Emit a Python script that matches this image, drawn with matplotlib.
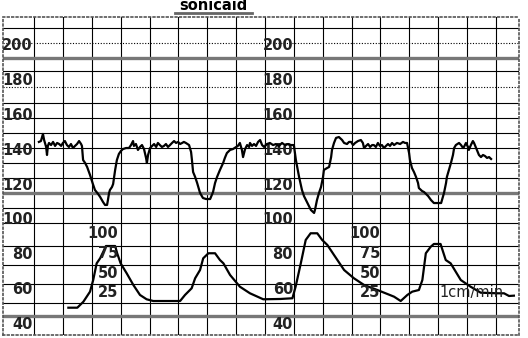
import numpy as np
import matplotlib.pyplot as plt
from matplotlib.lines import Line2D

# fetal heart rate trace: time (min) and rate (bpm)
fhr_min = [0.17, 0.24, 0.31, 0.35, 0.38, 0.42, 0.45, 0.48, 0.52, 0.59, 0.66, 0.73, 0.80, 0.87, 0.94,
           1.00, 1.07, 1.14, 1.21, 1.28, 1.35, 1.42, 1.49, 1.56, 1.63, 1.66,
           1.70, 1.77, 1.84, 1.94, 2.04, 2.11, 2.22, 2.29, 2.39, 2.46, 2.53, 2.56, 2.60, 2.63, 2.70,
           2.74, 2.81, 2.87, 2.94, 3.01, 3.08, 3.19, 3.29, 3.36, 3.43,
           3.46, 3.53, 3.60, 3.67, 3.74, 3.81, 3.88, 3.91, 3.95, 4.02, 4.09, 4.16, 4.23, 4.29, 4.36,
           4.43, 4.50, 4.57, 4.64, 4.71, 4.78, 4.85, 4.92, 4.99, 5.06, 5.13, 5.19, 5.26, 5.37,
           5.44, 5.47, 5.51, 5.58, 5.65, 5.75, 5.85, 5.96, 6.10, 6.20, 6.27, 6.34, 6.44, 6.55, 6.61,
           6.68, 6.79, 6.89, 7.00,
           7.06, 7.13, 7.20, 7.24, 7.31, 7.38, 7.45, 7.48, 7.55, 7.62, 7.69, 7.76, 7.83, 7.90, 7.97,
           8.07, 8.17, 8.28, 8.38, 8.48, 8.59, 8.69, 8.80, 8.90, 9.00,
           9.07, 9.18, 9.28, 9.35, 9.42, 9.52, 9.59, 9.70, 9.73, 9.80, 9.87, 9.94, 10.01, 10.04,
           10.15, 10.22, 10.29, 10.32, 10.39, 10.46, 10.56, 10.67, 10.74,
           10.84, 10.91, 10.98, 11.05, 11.12, 11.22, 11.32, 11.39, 11.43, 11.50, 11.57, 11.64, 11.71,
           11.77, 11.84, 11.91, 11.98, 12.05, 12.12, 12.19, 12.26, 12.33, 12.40, 12.47, 12.57, 12.68,
           12.78, 12.85, 12.92,
           12.99, 13.02, 13.09, 13.16, 13.23, 13.30, 13.33, 13.44, 13.51, 13.65, 13.75, 13.85, 13.96,
           14.10, 14.16, 14.20, 14.27, 14.30, 14.37, 14.44, 14.51, 14.55,
           14.61, 14.72, 14.79, 14.86, 14.89, 14.96, 15.03, 15.06, 15.13, 15.20, 15.24, 15.31, 15.34,
           15.41, 15.48, 15.55, 15.62, 15.69, 15.76, 15.83]
fhr_bpm = [144.8, 145.3, 149.4, 145.9, 144.2, 141.9, 137.3, 142.5, 144.2, 143.0, 144.8, 142.5, 144.2, 143.6, 142.5,
           144.2, 145.3, 143.0, 141.9, 143.6, 141.3, 142.5, 143.6, 145.3, 143.6, 142.5,
           134.4, 132.7, 130.4, 125.8, 120.6, 117.2, 114.9, 113.2, 110.3, 108.6, 108.6, 111.4, 115.5, 117.2, 118.9,
           120.6, 128.7, 134.4, 137.9, 139.6, 140.7, 141.3, 141.3, 143.0, 145.3,
           142.5, 143.6, 140.2, 141.9, 143.0, 140.7, 135.6, 132.7, 137.3, 141.3, 142.5, 143.6, 141.9, 144.2, 143.0,
           141.9, 142.5, 143.6, 141.9, 143.0, 144.2, 145.3, 144.2, 144.8, 143.6, 144.2, 144.8, 144.2, 143.0,
           139.0, 134.4, 127.5, 124.7, 121.2, 115.5, 112.6, 112.0, 112.0, 116.0, 121.2, 124.7, 128.7, 132.7, 135.6,
           138.4, 140.2, 140.7, 141.9,
           142.5, 144.2, 140.2, 136.1, 140.7, 143.0, 141.9, 144.2, 142.5, 143.6, 142.5, 144.8, 145.9, 143.0, 141.9,
           143.6, 144.2, 143.0, 143.6, 142.5, 144.2, 143.0, 143.6, 143.0, 143.0,
           134.4, 124.7, 117.2, 113.7, 111.4, 108.0, 105.7, 104.0, 105.7, 111.4, 115.5, 118.9, 124.7, 128.7,
           129.8, 130.4, 136.1, 140.2, 144.2, 147.1, 147.6, 145.9, 144.2,
           143.6, 144.8, 144.8, 143.0, 144.2, 145.3, 145.9, 144.2, 141.3, 142.5, 143.6, 141.9, 143.0,
           143.0, 141.9, 144.2, 142.5, 143.0, 141.3, 142.5, 143.6, 142.5, 144.2, 143.0, 144.2, 143.6,
           144.8, 144.2, 144.2,
           138.4, 134.4, 129.8, 127.5, 124.7, 121.2, 118.3, 116.6, 116.0, 113.7, 111.4, 109.7, 109.7,
           109.7, 113.2, 115.5, 121.2, 124.7, 128.7, 132.7, 137.3, 141.3,
           143.0, 144.2, 143.0, 141.3, 141.9, 144.2, 141.9, 140.2, 143.0, 145.3, 144.2, 141.3, 140.2,
           137.3, 136.1, 137.3, 136.7, 135.6, 136.1, 135.0]

# uterine contraction trace: time (min) and pressure (toco scale 0-100)
toco_min = [1.19, 1.50, 1.71, 1.94, 2.05, 2.17, 2.29, 2.40, 2.49, 2.81, 2.88, 3.00, 3.21, 3.44, 3.67,
            3.90, 4.13, 5.06, 5.23, 5.46, 5.58, 5.75, 5.86, 6.04, 6.27, 6.44, 6.56, 6.79, 7.13, 7.48,
            7.94, 8.54, 8.95, 9.06, 9.24, 9.41, 9.58, 9.81, 9.98, 10.16, 10.39, 10.74, 11.08, 11.43,
            11.89, 12.24, 12.47, 12.70, 12.93, 13.10, 13.33, 13.45, 13.57, 13.74, 13.85, 14.08, 14.26,
            14.43, 14.78, 15.12, 15.47, 16.05, 16.28, 16.45, 16.62]
toco_val = [6.3, 6.3, 13.9, 26.7, 41.5, 62.7, 69.1, 77.5, 84.7, 84.7, 75.5, 62.7, 50.0, 35.2, 22.5,
            17.0, 14.8, 14.8, 22.5, 31.0, 43.7, 54.2, 69.1, 75.5, 75.5, 66.9, 62.7, 47.9, 33.0, 24.6,
            17.0, 17.4, 18.3, 33.0, 62.7, 92.4, 100.9, 100.9, 92.4, 86.0, 73.3, 54.2, 43.7, 35.2,
            28.8, 23.7, 20.3, 14.8, 22.5, 26.7, 28.8, 41.5, 75.5, 83.8, 87.3, 87.3, 66.9,
            62.7, 41.5, 33.0, 25.4, 24.6, 24.6, 21.2, 21.6]

fhr_labels = [200, 180, 160, 140, 120, 100, 80, 60, 40]
toco_labels = [100, 75, 50, 25]
speed_label = "1cm/min"
title = "sonicaid"

# paper grid (bpm scale), thick rule lines, label columns (min)
hgrid = [210.2, 185.5, 167.3, 158.7, 150.1, 141.5, 132.9, 124.3,
         106.8, 98.2, 85.0, 74.1, 63.2, 52.3]
hgrid_dotted = [201.8, 176.3]
thick = [193.2, 115.5, 44.8]
fhr_cols = [-0.05, 8.97]
toco_cols = [2.91, 11.98]

font = ['Liberation Sans Narrow', 'DejaVu Sans Condensed', 'DejaVu Sans']

fig = plt.figure(figsize=(5.28, 3.38), dpi=100)
ax = fig.add_axes([3 / 528, 3 / 338, 516 / 528, 318 / 338])
ax.set_xlim(-1.074, 16.797)
ax.set_ylim(33.9, 216.55)
ax.set_xticks([])
ax.set_yticks([])
for sp in ax.spines.values():
    sp.set_linestyle(':')
    sp.set_color('#555555')
    sp.set_linewidth(1.2)

for m in range(17):
    ax.axvline(m, color='black', lw=0.8, zorder=1)
for y in hgrid:
    ax.axhline(y, color='black', lw=0.8, zorder=1)
for y in hgrid_dotted:
    ax.axhline(y, color='black', lw=0.8, ls=(0, (1, 1.5)), zorder=1)
for y in thick:
    ax.axhline(y, color='#777777', lw=2.4, zorder=2)

for c in fhr_cols:
    for v in fhr_labels:
        ax.text(c, v, str(v), ha='right', va='center', fontsize=10.5,
                family=font, weight='bold', color='#222222', zorder=3)

ax.plot(fhr_min, fhr_bpm, color='black', lw=1.6, zorder=5)

ax2 = ax.twinx()
ax2.set_ylim(-28.4, 375.8)
ax2.set_yticks([])
for sp in ax2.spines.values():
    sp.set_visible(False)
for c in toco_cols:
    for v in toco_labels:
        ax2.text(c, v, str(v), ha='right', va='center', fontsize=10.5,
                 family=font, weight='bold', color='#222222')
ax2.text(14.03, 26, speed_label, ha='left', va='center', fontsize=10.5,
         family=font, color='#222222')
ax2.plot(toco_min, toco_val, color='black', lw=1.6)

fig.text(213 / 528, 1 - 6 / 338, title, ha='center', va='center', fontsize=10.5,
         family=font, weight='bold')
fig.add_artist(Line2D([175 / 528, 252 / 528], [1 - 12.5 / 338] * 2, color='#666666', lw=2))

fig.savefig('out.png', dpi=100)
